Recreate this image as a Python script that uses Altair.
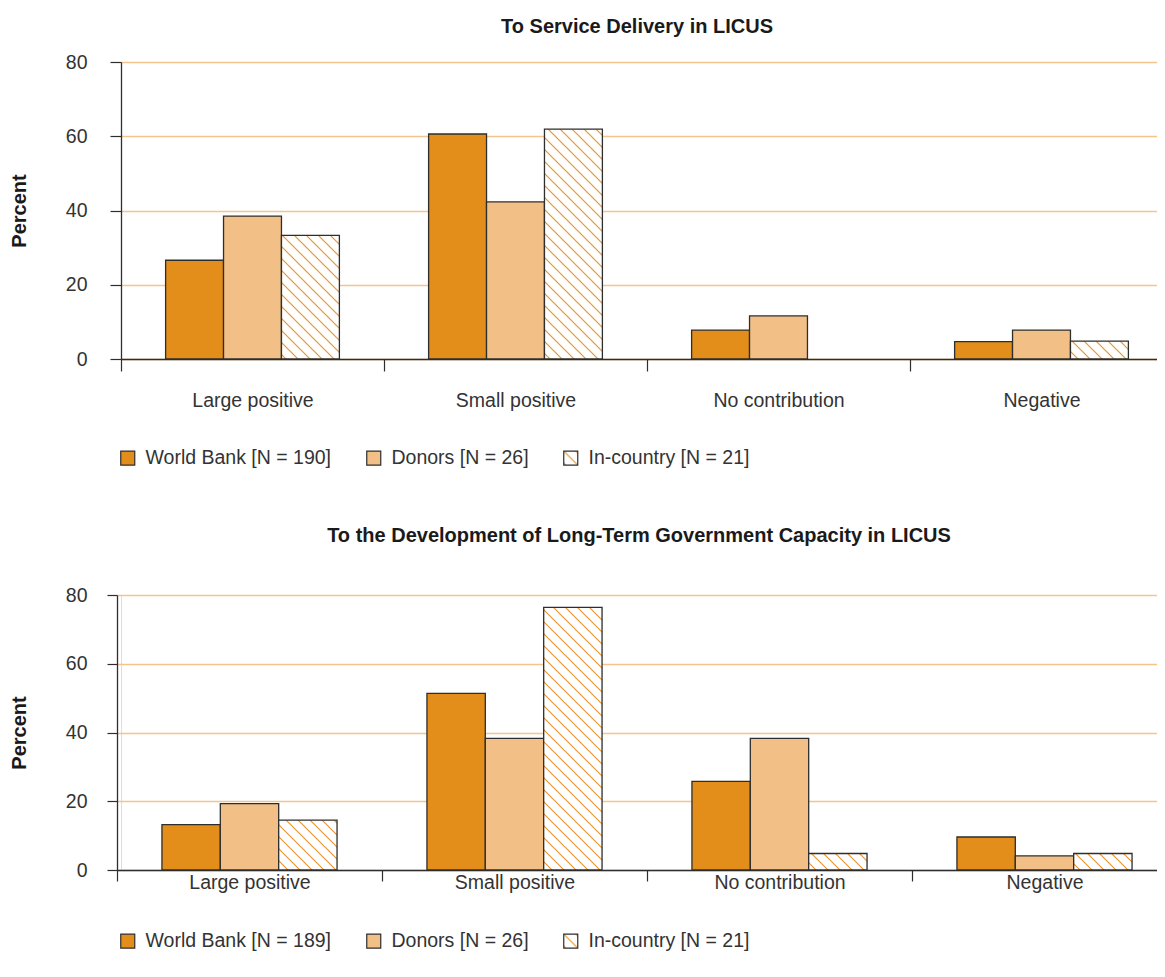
import altair as alt
import pandas as pd
from altair.utils import html as alt_html

# ---------------- data ----------------
categories = ["Large positive", "Small positive", "No contribution", "Negative"]

series_service = ["World Bank [N = 190]", "Donors [N = 26]", "In-country [N = 21]"]
wb_service = [26.6, 60.6, 7.8, 4.7]
donors_service = [38.5, 42.3, 11.6, 7.8]
incountry_service = [33.3, 61.9, 0.0, 4.8]

series_capacity = ["World Bank [N = 189]", "Donors [N = 26]", "In-country [N = 21]"]
wb_capacity = [13.2, 51.4, 25.8, 9.6]
donors_capacity = [19.3, 38.3, 38.3, 4.1]
incountry_capacity = [14.5, 76.4, 4.8, 4.8]

title_service = "To Service Delivery in LICUS"
title_capacity = "To the Development of Long-Term Government Capacity in LICUS"

# ---------------- style ----------------
FONT = "Liberation Sans, Arial, sans-serif"
WB_COLOR = "#E38E1A"
DN_COLOR = "#F2C087"
HATCH_FILL = "url(#hatch)"
OUTLINE = "#2e2e2e"
GRID = "#F4C48C"
TEXT = "#333333"


def long_table(series, wb, dn, ic):
    rows = []
    for s, vals in zip(series, [wb, dn, ic]):
        for c, v in zip(categories, vals):
            rows.append({"category": c, "series": s, "value": v})
    return pd.DataFrame(rows)


def panel(title, series, wb, dn, ic, width, height, title_offset, x_label_pad,
          x_tick, y_tick, y_label_pad, y_offset, x_range_min, legend_y):
    df = long_table(series, wb, dn, ic)
    x_scale = alt.Scale(paddingInner=0, paddingOuter=0)
    if x_range_min:
        x_scale = alt.Scale(paddingInner=0, paddingOuter=0, rangeMin=x_range_min)
    return (
        alt.Chart(df)
        .transform_filter(alt.datum.value > 0)
        .mark_bar(stroke=OUTLINE, strokeWidth=1.3)
        .encode(
            x=alt.X(
                "category:N",
                sort=categories,
                scale=x_scale,
                axis=alt.Axis(
                    title=None,
                    labelAngle=0,
                    tickBand="extent",
                    tickSize=x_tick,
                    tickColor=OUTLINE,
                    tickWidth=1.2,
                    domainColor=OUTLINE,
                    domainWidth=1.3,
                    labelPadding=x_label_pad,
                    labelFontSize=19.5,
                    labelFont=FONT,
                    labelColor=TEXT,
                    grid=False,
                ),
            ),
            xOffset=alt.XOffset(
                "series:N",
                sort=series,
                scale=alt.Scale(domain=series, paddingInner=0, paddingOuter=0.77),
            ),
            y=alt.Y(
                "value:Q",
                scale=alt.Scale(domain=[0, 80], nice=False),
                axis=alt.Axis(
                    values=[0, 20, 40, 60, 80],
                    title="Percent",
                    titleFont=FONT,
                    titleFontSize=20,
                    titleFontWeight="bold",
                    titleColor="#1a1a1a",
                    titlePadding=36,
                    labelFont=FONT,
                    labelFontSize=19.5,
                    labelColor=TEXT,
                    labelPadding=y_label_pad,
                    tickSize=y_tick,
                    tickColor=OUTLINE,
                    tickWidth=1.2,
                    domainColor=OUTLINE,
                    domainWidth=1.3,
                    offset=y_offset,
                    grid=True,
                    gridColor=GRID,
                    gridWidth=1.4,
                ),
            ),
            color=alt.Color(
                "series:N",
                sort=series,
                scale=alt.Scale(domain=series, range=[WB_COLOR, DN_COLOR, HATCH_FILL]),
                legend=alt.Legend(
                    title=None,
                    orient="none",
                    legendX=-3,
                    legendY=legend_y,
                    direction="horizontal",
                    symbolType="square",
                    symbolSize=196,
                    symbolStrokeColor=OUTLINE,
                    symbolStrokeWidth=1.2,
                    labelFont=FONT,
                    labelFontSize=19.5,
                    labelColor=TEXT,
                    labelLimit=0,
                    labelOffset=8,
                    columnPadding=32,
                    padding=0,
                ),
            ),
        )
        .properties(
            width=width,
            height=height,
            title=alt.TitleParams(
                title,
                font=FONT,
                fontSize=20,
                fontWeight="bold",
                color="#1a1a1a",
                anchor="middle",
                offset=title_offset,
                dx=-10,
                dy=-1,
            ),
        )
    )


top = panel(title_service, series_service, wb_service, donors_service, incountry_service,
            1052, 297, 14, 20, 12, 11, 23, 0, 0, 386)
bottom = panel(title_capacity, series_capacity, wb_capacity, donors_capacity, incountry_capacity,
               1056, 275, 38, -8, 11, 10, 20, 4, -4, 336)

chart = (
    alt.concat(top, bottom, columns=1, spacing=56)
    .resolve_scale(x="independent", y="independent", xOffset="independent", color="independent")
    .resolve_legend(color="independent")
    .properties(padding={"left": 0, "top": 8, "right": 0, "bottom": 0})
    .configure_view(stroke=None)
    .configure(background="white")
)

# SVG pattern used as the fill of the "In-country" series, and a rule that keeps the
# wide chart at its natural size (the reference is cropped on its right side).
PATTERN_SVG = (
    '<style>#vis svg.marks{flex-shrink:0} html{overflow:hidden}</style>'
    '<svg width="0" height="0" style="position:absolute;left:0;top:0" aria-hidden="true">'
    '<defs><pattern id="hatch" patternUnits="userSpaceOnUse" width="12" height="12">'
    '<rect x="0" y="0" width="12" height="12" fill="#ffffff"/>'
    '<path d="M-3,-3 L15,15 M-3,9 L3,15 M9,-3 L15,3" stroke="#E8962E" stroke-width="1.2" fill="none"/>'
    '</pattern></defs></svg>'
)


class HatchTemplate:
    def render(self, **kw):
        page = alt_html.TEMPLATES["standard"].render(**kw)
        marker = '<div id="%s"' % kw.get("output_div", "vis")
        return page.replace(marker, PATTERN_SVG + "\n" + marker, 1)


chart.save("out.html", embed_options={"renderer": "svg", "actions": False}, template=HatchTemplate())
